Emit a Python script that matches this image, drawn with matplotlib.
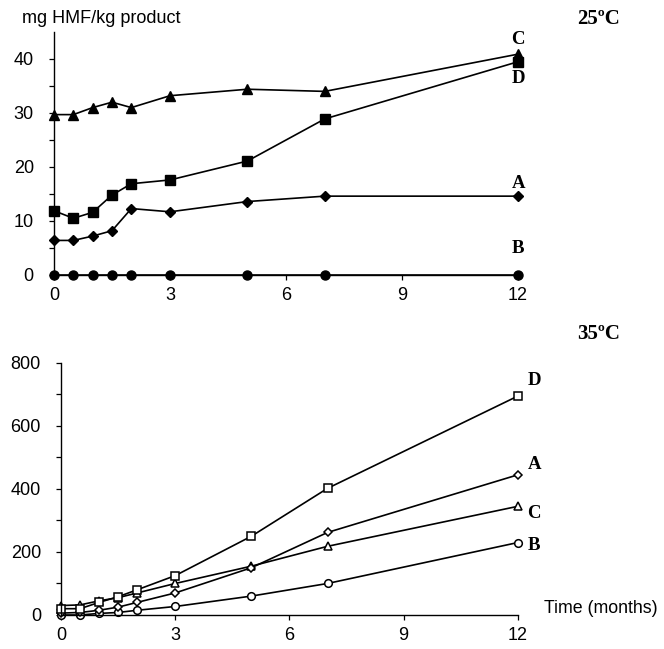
import numpy as np
import matplotlib.pyplot as plt

# time points (months)
months = [0, 0.5, 1, 1.5, 2, 3, 5, 7, 12]

# 25 C storage, mg HMF/kg product
hmf25_A = [6.4, 6.4, 7.2, 8.2, 12.3, 11.7, 13.6, 14.6, 14.6]
hmf25_B = [0, 0, 0, 0, 0, 0, 0, 0, 0]
hmf25_C = [29.7, 29.7, 31.0, 32.0, 31.0, 33.2, 34.4, 34.0, 40.9]
hmf25_D = [11.9, 10.5, 11.6, 14.8, 16.9, 17.6, 21.1, 28.9, 39.5]

# 35 C storage
hmf35_A = [6, 8, 15, 25, 40, 70, 150, 262, 445]
hmf35_B = [0, 0, 5, 8, 15, 27, 60, 100, 230]
hmf35_C = [30, 32, 45, 55, 70, 100, 155, 218, 345]
hmf35_D = [20, 20, 40, 58, 80, 125, 250, 402, 695]

plt.rcParams['font.family'] = ['Liberation Sans', 'DejaVu Sans']
serif = dict(family=['Liberation Serif', 'DejaVu Serif'], fontweight='bold', fontsize=15)
letter = dict(serif, fontsize=13.5)

fig = plt.figure(figsize=(6.64, 6.49), dpi=100)
ax1 = fig.add_axes([0.0813, 0.5763, 0.699, 0.3744])
ax2 = fig.add_axes([0.0919, 0.0524, 0.688, 0.3883])

kw = dict(color='black', lw=1.2, clip_on=False)
ax1.plot(months, hmf25_B, marker='o', ms=6.5, **kw)
ax1.plot(months, hmf25_A, marker='D', ms=5.5, **kw)
ax1.plot(months, hmf25_D, marker='s', ms=7, **kw)
ax1.plot(months, hmf25_C, marker='^', ms=7.5, **kw)

hk = dict(mfc='white', mec='black', mew=1.1)
ax2.plot(months, hmf35_B, marker='o', ms=5.5, **hk, **kw)
ax2.plot(months, hmf35_C, marker='^', ms=5.5, **hk, **kw)
ax2.plot(months, hmf35_A, marker='D', ms=4.5, **hk, **kw)
ax2.plot(months, hmf35_D, marker='s', ms=6, **hk, **kw)

for ax in (ax1, ax2):
    ax.set_xlim(0, 12)
    ax.set_xticks([0, 3, 6, 9, 12])
    for s in ('top', 'right'):
        ax.spines[s].set_visible(False)
    for s in ('left', 'bottom'):
        ax.spines[s].set_linewidth(1.0)
    ax.tick_params(labelsize=13, length=3.5, width=0.9, direction='out')
    ax.tick_params(axis='y', pad=11)
    ax.tick_params(axis='x', pad=5)

ax1.set_ylim(0, 45)
ax1.set_yticks(np.arange(0, 45, 5))
ax1.set_yticklabels([str(v) if v % 10 == 0 else '' for v in range(0, 45, 5)])

ax2.set_ylim(0, 800)
ax2.set_yticks(np.arange(0, 801, 100))
ax2.set_yticklabels([str(v) if v % 200 == 0 else '' for v in range(0, 801, 100)])

fig.text(0.033, 0.972, 'mg HMF/kg product', fontsize=13, va='center', ha='left')
fig.text(0.869, 0.970, '25ºC', va='center', ha='left', **serif)
fig.text(0.869, 0.485, '35ºC', va='center', ha='left', **serif)
fig.text(0.82, 0.063, 'Time (months)', fontsize=12.8, va='center', ha='left')

# series labels
ax1.text(12, 43.7, 'C', ha='center', va='center', **letter)
ax1.text(12, 36.4, 'D', ha='center', va='center', **letter)
ax1.text(12, 17.0, 'A', ha='center', va='center', **letter)
ax1.text(12, 4.9, 'B', ha='center', va='center', **letter)

ax2.text(12.25, 745, 'D', ha='left', va='center', **letter)
ax2.text(12.25, 478, 'A', ha='left', va='center', **letter)
ax2.text(12.25, 322, 'C', ha='left', va='center', **letter)
ax2.text(12.25, 222, 'B', ha='left', va='center', **letter)

fig.savefig('out.png', dpi=100)
